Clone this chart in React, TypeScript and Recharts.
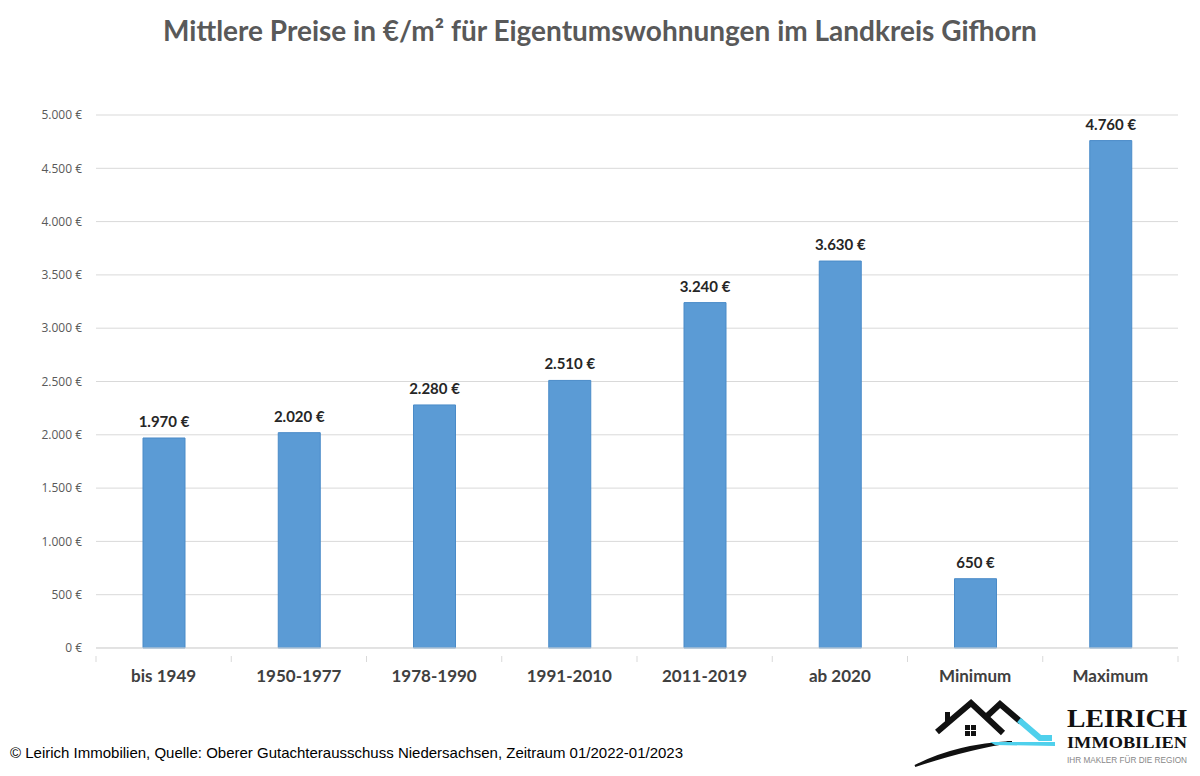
import React from "react";
import { BarChart, Bar, XAxis, YAxis, CartesianGrid, LabelList } from "recharts";

const categories = ["bis 1949", "1950-1977", "1978-1990", "1991-2010", "2011-2019", "ab 2020", "Minimum", "Maximum"];
const prices = [1970, 2020, 2280, 2510, 3240, 3630, 650, 4760];
const yTicks = [0, 500, 1000, 1500, 2000, 2500, 3000, 3500, 4000, 4500, 5000];

const title = "Mittlere Preise in €/m² für Eigentumswohnungen im Landkreis Gifhorn";
const footer = "© Leirich Immobilien, Quelle: Oberer Gutachterausschuss Niedersachsen, Zeitraum 01/2022-01/2023";

const data = categories.map((c, i) => ({ name: c, value: prices[i] }));

const fmt = (v: number) => {
  const s = Math.round(v).toString();
  return s.replace(/\B(?=(\d{3})+(?!\d))/g, ".") + " €";
};

const W = 1200;
const H = 776;
const PLOT_LEFT = 96;
const PLOT_RIGHT = 1178;
const BAND = (PLOT_RIGHT - PLOT_LEFT) / categories.length;
const FONT = "Lato, 'Open Sans', sans-serif";

const XTick = (props: any) => {
  const { x, y, payload, index } = props;
  const half = BAND / 2;
  return (
    <g>
      <line x1={x - half} y1={y} x2={x - half} y2={y + 6} stroke="#d9d9d9" strokeWidth={1} />
      {index === categories.length - 1 && (
        <line x1={x + half} y1={y} x2={x + half} y2={y + 6} stroke="#d9d9d9" strokeWidth={1} />
      )}
      <text x={x} y={y + 26} textAnchor="middle" fill="#404040" fontSize={17} fontWeight={700} fontFamily={FONT}>
        {payload.value}
      </text>
    </g>
  );
};

const ValueLabel = (props: any) => {
  const { x, y, width, value } = props;
  return (
    <text
      x={Number(x) + Number(width) / 2}
      y={Number(y) - 11}
      textAnchor="middle"
      fill="#262626"
      fontSize={15}
      fontWeight={700}
      fontFamily={FONT}
    >
      {fmt(Number(value))}
    </text>
  );
};

const Logo = () => (
  <svg width={W} height={H} style={{ position: "absolute", left: 0, top: 0, pointerEvents: "none" }}>
    <path d="M915,766 Q955,745 1012,742 Q970,748 915,766 Z" fill="#111" stroke="#111" strokeWidth={2} />
    <path d="M990,742 L1055,742 L1055,746 L995,745 Z" fill="#4fd0ec" />
    <polyline points="937,732 971,703 1003,733" fill="none" stroke="#111" strokeWidth={6} strokeLinejoin="miter" />
    <polyline points="985,718 1000,704 1021,722" fill="none" stroke="#111" strokeWidth={6} />
    <polyline points="1019,720 1040,738 1052,738" fill="none" stroke="#4fd0ec" strokeWidth={6} />
    <rect x={945} y={712} width={5} height={10} fill="#111" />
    <rect x={965} y={725} width={11} height={11} fill="#111" />
    <line x1={970.5} y1={725} x2={970.5} y2={736} stroke="#fff" strokeWidth={1} />
    <line x1={965} y1={730.5} x2={976} y2={730.5} stroke="#fff" strokeWidth={1} />
    <text x={1067} y={727} fontFamily="'Liberation Serif', 'DejaVu Serif', serif" fontWeight={700} fontSize={25} fill="#111" textLength={120} lengthAdjust="spacingAndGlyphs">LEIRICH</text>
    <text x={1067} y={748} fontFamily="'Liberation Serif', 'DejaVu Serif', serif" fontWeight={700} fontSize={17} fill="#111" textLength={120} lengthAdjust="spacingAndGlyphs">IMMOBILIEN</text>
    <text x={1067} y={763} fontFamily="'Liberation Sans', Arial, sans-serif" fontSize={9} fill="#888" textLength={120} lengthAdjust="spacingAndGlyphs">IHR MAKLER FÜR DIE REGION</text>
  </svg>
);

export default function App() {
  return (
    <div style={{ position: "absolute", left: 0, top: 0, width: W, height: H, background: "#fff", overflow: "hidden" }}>
      <div
        style={{
          position: "absolute",
          left: 0,
          top: 12,
          width: W,
          textAlign: "center",
          fontFamily: FONT,
          fontWeight: 700,
          fontSize: 28,
          lineHeight: "36px",
          color: "#595959",
          whiteSpace: "nowrap",
        }}
      >
        {title}
      </div>
      <BarChart
        width={W}
        height={H}
        data={data}
        margin={{ top: 115, right: W - PLOT_RIGHT, bottom: 88, left: 10 }}
        barSize={42}
      >
        <CartesianGrid vertical={false} stroke="#d9d9d9" strokeWidth={1} />
        <XAxis
          dataKey="name"
          height={40}
          axisLine={{ stroke: "#d9d9d9" }}
          tickLine={false}
          tick={<XTick />}
          interval={0}
        />
        <YAxis
          width={86}
          domain={[0, 5000]}
          ticks={yTicks}
          tickFormatter={fmt}
          axisLine={false}
          tickLine={false}
          tickSize={0}
          tickMargin={14}
          tick={{ fill: "#595959", fontSize: 12, fontFamily: "'Open Sans', sans-serif" }}
        />
        <Bar dataKey="value" fill="#5b9bd5" stroke="#4a8bc8" strokeWidth={1} isAnimationActive={false}>
          <LabelList dataKey="value" content={<ValueLabel />} />
        </Bar>
      </BarChart>
      <div
        style={{
          position: "absolute",
          left: 10,
          top: 744,
          fontFamily: "'Liberation Sans', Arial, sans-serif",
          fontSize: 15,
          color: "#000",
          whiteSpace: "nowrap",
        }}
      >
        {footer}
      </div>
      <Logo />
    </div>
  );
}
